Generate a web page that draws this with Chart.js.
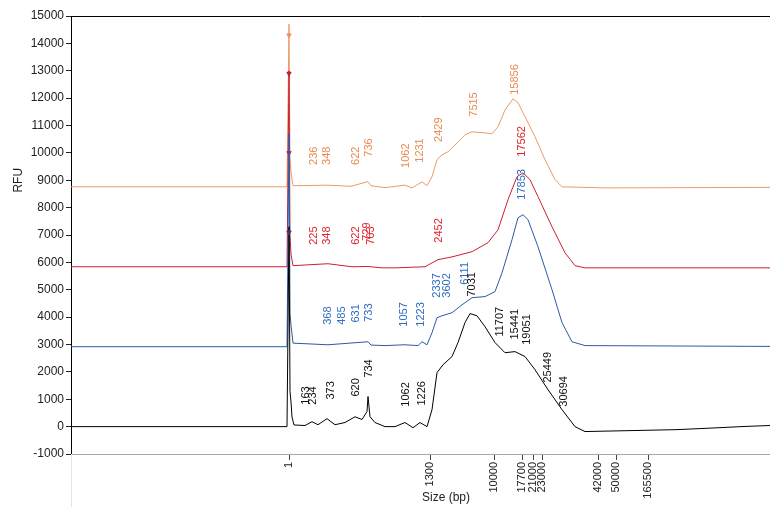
<!DOCTYPE html>
<html>
<head>
<meta charset="utf-8">
<title>Electropherogram</title>
<script src="https://cdn.jsdelivr.net/npm/chart.js@4.4.1/dist/chart.umd.min.js"></script>
<style>
  html, body { margin: 0; padding: 0; background: #fff; }
  canvas { display: block; }
</style>
</head>
<body>
<canvas id="rfuChart" width="770" height="507"></canvas>
<script>
// scan position (x) and RFU (y) for each trace
var blackPos = [0, 216, 218, 219, 220, 221, 223, 234, 241, 247, 256, 264, 274, 284, 291, 296, 297, 299, 304, 314, 324, 334, 342, 349, 356, 361, 366, 372, 381, 387, 394, 399, 406, 414, 424, 434, 444, 454, 464, 477, 491, 504, 514, 606, 642, 676, 699];
var blackRfu = [0, 0, 7300, 1280, 900, 350, 60, 40, 180, 70, 290, 70, 150, 360, 260, 550, 1100, 360, 150, 0, 0, 150, -40, 150, 0, 620, 1970, 2260, 2560, 3070, 3800, 4130, 4050, 3650, 3070, 2700, 2740, 2560, 2080, 1350, 620, 0, -180, -110, -50, 10, 40];

var bluePos = [0, 216, 218, 219, 220, 222, 257, 297, 300, 314, 334, 347, 351, 356, 361, 366, 371, 381, 391, 401, 414, 424, 431, 441, 447, 452, 457, 467, 481, 491, 501, 514, 699];
var blueRfu = [2920, 2920, 10700, 4150, 3700, 3050, 2990, 3100, 2980, 2960, 2990, 2960, 3100, 2990, 3430, 3980, 4050, 4160, 4450, 4710, 4750, 4930, 5620, 6830, 7630, 7740, 7560, 6570, 5000, 3800, 3100, 2960, 2930];

var redPos = [0, 216, 218, 219, 220, 222, 257, 281, 297, 311, 324, 354, 367, 381, 401, 417, 427, 437, 446, 452, 459, 467, 481, 494, 504, 514, 699];
var redRfu = [5840, 5840, 13000, 7000, 6300, 5880, 5950, 5840, 5850, 5800, 5800, 5840, 6100, 6200, 6390, 6720, 7190, 8290, 9130, 9270, 9020, 8400, 7300, 6350, 5880, 5800, 5800];

var orangePos = [0, 216, 218, 219, 220, 222, 257, 280, 297, 300, 314, 334, 341, 351, 356, 361, 366, 371, 377, 384, 394, 401, 414, 421, 427, 434, 442, 447, 454, 464, 474, 484, 491, 534, 699];
var orangeRfu = [8760, 8760, 14700, 9750, 9300, 8800, 8820, 8780, 8950, 8800, 8730, 8820, 8720, 8940, 8800, 9130, 9750, 9930, 10040, 10290, 10660, 10770, 10730, 10700, 10950, 11570, 11970, 11830, 11320, 10590, 9750, 9020, 8760, 8720, 8740];

// size-standard markers on the first peak
var markerRfu = [14300, 12900, 10000, 7100];

// ladder sizes on the x axis
var sizeLabels = ['1', '1300', '10000', '17700', '21000', '23000', '42000', '50000', '165500'];
var sizePos = [218, 359, 423, 451, 462, 471, 527, 545, 577];

// called peaks: text, scan position, RFU where the label starts
var orangePeaks = ['236', '348', '622', '736', '1062', '1231', '2429', '7515', '15856'];
var orangePeakPos = [243, 256, 285, 298, 335, 349, 368, 403, 444];
var orangePeakRfu = [9560, 9560, 9560, 9860, 9450, 9640, 10400, 11320, 12120];

var redPeaks = ['225', '348', '622', '729', '763', '2452', '17562'];
var redPeakPos = [243, 256, 285, 296, 300, 368, 451];
var redPeakRfu = [6640, 6640, 6640, 6790, 6640, 6720, 9860];

var bluePeaks = ['368', '485', '631', '733', '1057', '1223', '2337', '3602', '6111', '17853'];
var bluePeakPos = [257, 271, 285, 298, 333, 350, 366, 376, 394, 451];
var bluePeakRfu = [3720, 3720, 3800, 3830, 3650, 3650, 4710, 4710, 5180, 8290];

var blackPeaks = ['163', '234', '373', '620', '734', '1062', '1226', '7031', '11707', '15441', '19051', '25449', '30694'];
var blackPeakPos = [235, 242, 260, 285, 298, 335, 351, 401, 429, 444, 456, 477, 493];
var blackPeakRfu = [800, 800, 990, 1100, 1790, 730, 770, 4750, 3290, 3180, 2990, 1610, 730];

function toPoints(xs, ys) {
    return xs.map(function (v, i) { return { x: v, y: ys[i] }; });
}

var labelSets = [
    { color: '#e98b52', text: orangePeaks, pos: orangePeakPos, rfu: orangePeakRfu },
    { color: '#e3222b', text: redPeaks, pos: redPeakPos, rfu: redPeakRfu },
    { color: '#2f6cc2', text: bluePeaks, pos: bluePeakPos, rfu: bluePeakRfu },
    { color: '#111111', text: blackPeaks, pos: blackPeakPos, rfu: blackPeakRfu }
];

var FONT = '"Liberation Sans", Arial, sans-serif';

var extras = {
    id: 'extras',
    afterDatasetsDraw: function (chart) {
        var ctx = chart.ctx, xs = chart.scales.x, ys = chart.scales.y, area = chart.chartArea;
        ctx.save();
        // frame on top
        ctx.strokeStyle = '#000';
        ctx.lineWidth = 1;
        ctx.beginPath();
        ctx.moveTo(area.left, area.top + 0.5);
        ctx.lineTo(area.right, area.top + 0.5);
        ctx.stroke();
        // faint line under the axis
        ctx.strokeStyle = '#e4e4e4';
        ctx.beginPath();
        ctx.moveTo(area.left + 0.5, area.bottom);
        ctx.lineTo(area.left + 0.5, chart.height);
        ctx.stroke();

        ctx.font = '11px ' + FONT;
        ctx.textAlign = 'left';
        ctx.textBaseline = 'middle';
        labelSets.forEach(function (set) {
            ctx.fillStyle = set.color;
            set.text.forEach(function (t, i) {
                ctx.save();
                ctx.translate(xs.getPixelForValue(set.pos[i]), ys.getPixelForValue(set.rfu[i]));
                ctx.rotate(-Math.PI / 2);
                ctx.fillText(t, 0, 0);
                ctx.restore();
            });
        });

        // axis titles
        ctx.fillStyle = '#222';
        ctx.font = '12px ' + FONT;
        ctx.textAlign = 'center';
        ctx.fillText('Size (bp)', 446, 498);
        ctx.save();
        ctx.translate(19, ys.getPixelForValue(9000));
        ctx.rotate(-Math.PI / 2);
        ctx.fillText('RFU', 0, 0);
        ctx.restore();
        ctx.restore();
    }
};

var ctx = document.getElementById('rfuChart').getContext('2d');
var chart = new Chart(ctx, {
    type: 'line',
    data: {
        datasets: [{
            label: 'markers',
            data: toPoints([218, 218, 218, 218], markerRfu),
            showLine: false,
            pointStyle: 'triangle',
            rotation: 180,
            pointRadius: 2.5,
            pointBackgroundColor: ['#e8955f', '#c8202f', '#7b3a8c', '#5a2a70'],
            pointBorderColor: ['#e8955f', '#c8202f', '#7b3a8c', '#5a2a70'],
            order: 0
        }, {
            label: 'black',
            data: toPoints(blackPos, blackRfu),
            borderColor: '#000000',
            order: 1
        }, {
            label: 'blue',
            data: toPoints(bluePos, blueRfu),
            borderColor: '#2a5aa6',
            order: 2
        }, {
            label: 'red',
            data: toPoints(redPos, redRfu),
            borderColor: '#c8202f',
            order: 3
        }, {
            label: 'orange',
            data: toPoints(orangePos, orangeRfu),
            borderColor: '#eb9a66',
            order: 4
        }]
    },
    options: {
        responsive: false,
        animation: false,
        events: [],
        layout: { autoPadding: false, padding: { top: 16, left: 0, right: 0, bottom: 0 } },
        elements: {
            line: { borderWidth: 1, tension: 0, fill: false },
            point: { radius: 0 }
        },
        plugins: {
            legend: { display: false },
            tooltip: { enabled: false }
        },
        scales: {
            x: {
                type: 'linear',
                min: 0,
                max: 699,
                afterFit: function (scale) {
                    scale.height = 53;
                    scale.paddingLeft = 0;
                    scale.paddingRight = 0;
                },
                afterBuildTicks: function (scale) {
                    scale.ticks = sizePos.map(function (v) { return { value: v }; });
                },
                ticks: {
                    autoSkip: false,
                    minRotation: 90,
                    maxRotation: 90,
                    padding: 2,
                    color: '#222',
                    font: { family: FONT, size: 11 },
                    callback: function (value, index) { return sizeLabels[index]; }
                },
                grid: { drawOnChartArea: false, tickLength: 6, color: '#444' },
                border: { color: '#a8a8a8' }
            },
            y: {
                min: -1000,
                max: 15000,
                afterFit: function (scale) {
                    scale.width = 71;
                    scale.paddingTop = 0;
                    scale.paddingBottom = 0;
                },
                ticks: {
                    stepSize: 1000,
                    padding: 2,
                    color: '#222',
                    font: { family: FONT, size: 12 },
                    callback: function (value) { return String(value); }
                },
                grid: { drawOnChartArea: false, tickLength: 5, color: '#222' },
                border: { color: '#000' }
            }
        }
    },
    plugins: [extras]
});
</script>
</body>
</html>
